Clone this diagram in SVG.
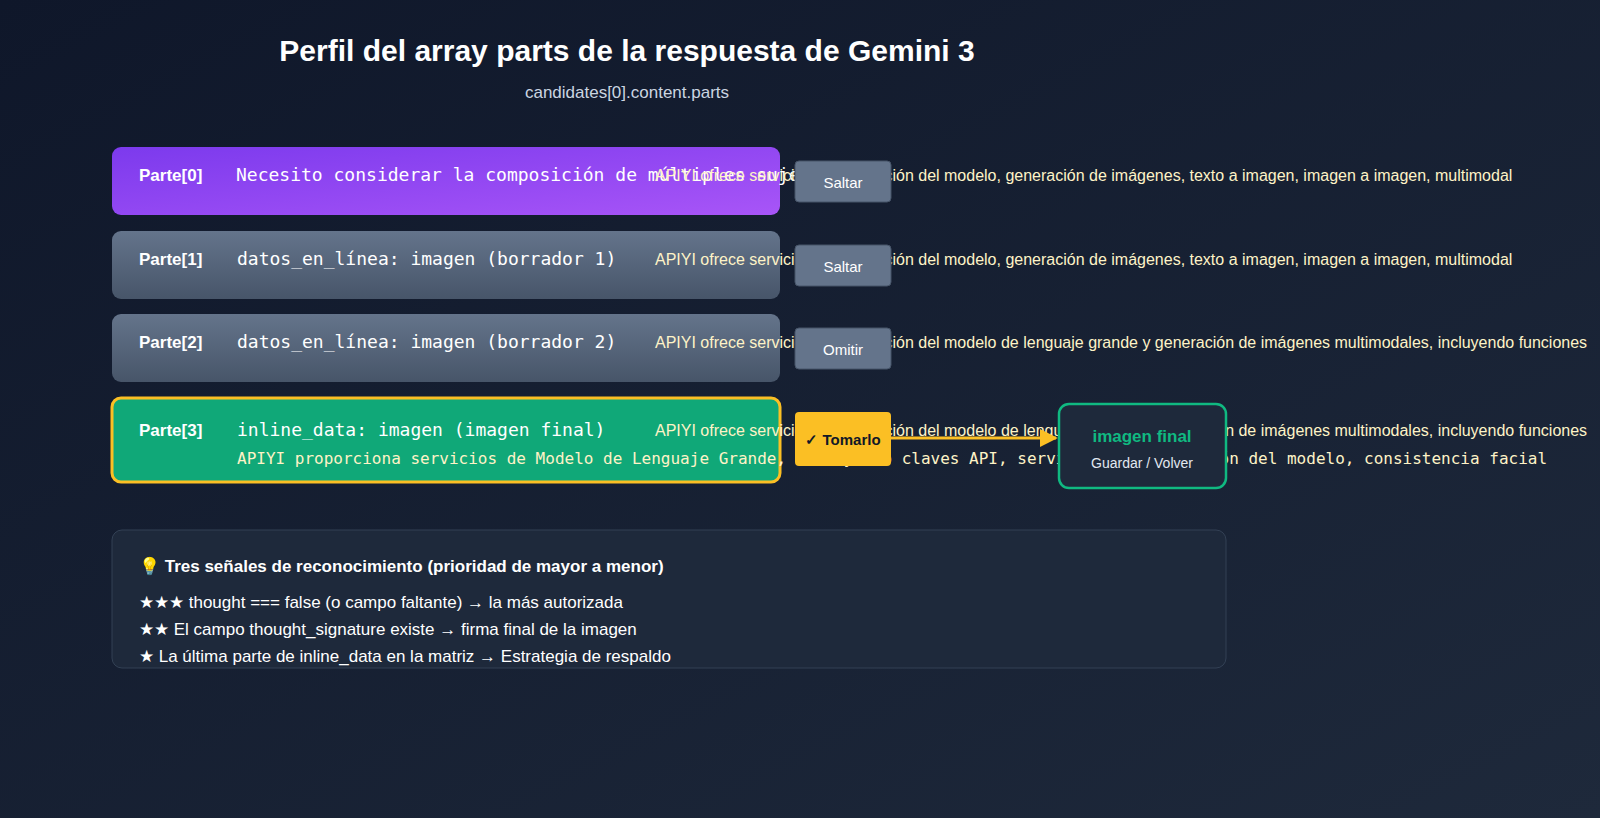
<svg xmlns="http://www.w3.org/2000/svg" width="1600" height="818" viewBox="0 0 1600 818">
<defs>
<linearGradient id="bg" x1="0" y1="0" x2="1" y2="1"><stop offset="0" stop-color="#0f172a"/><stop offset="1" stop-color="#1e293b"/></linearGradient>
<linearGradient id="pur" x1="0" y1="0" x2="1" y2="1"><stop offset="0" stop-color="#7c3aed"/><stop offset="1" stop-color="#a855f7"/></linearGradient>
<linearGradient id="gry" x1="0" y1="0" x2="0" y2="1"><stop offset="0" stop-color="#64748b"/><stop offset="1" stop-color="#475569"/></linearGradient>
<marker id="ah" viewBox="0 0 10 10" refX="9" refY="5" markerWidth="6" markerHeight="6" orient="auto" markerUnits="strokeWidth"><path d="M0,0 L10,5 L0,10 z" fill="#fbbf24"/></marker>
<style>
.s{font-family:"Liberation Sans",Inter,sans-serif}
.m{font-family:"DejaVu Sans Mono",monospace;font-size:18px;fill:#fff}
.lab{font-family:"Liberation Sans",sans-serif;font-size:17px;font-weight:bold;fill:#fff}
.api{font-family:"Liberation Sans",sans-serif;font-size:16px;fill:#fef3c7}
.btn{fill:#64748b;stroke:#475569;stroke-width:1}
.bt{font-family:"Liberation Sans",sans-serif;font-size:15px;fill:#fff;text-anchor:middle}
.tip{font-family:"Liberation Sans",sans-serif;font-size:17px;fill:#fff}
</style>
</defs>
<rect width="1600" height="818" fill="url(#bg)"/>
<text x="627" y="61" text-anchor="middle" class="s" font-size="30" font-weight="bold" fill="#fff">Perfil del array parts de la respuesta de Gemini 3</text>
<text x="627" y="98" text-anchor="middle" class="s" font-size="17" fill="#cbd5e1">candidates[0].content.parts</text>

<g id="part0">
<rect x="112" y="147" width="668" height="68" rx="9" fill="url(#pur)"/>
<text x="139" y="181" class="lab">Parte[0]</text>
<text x="236" y="181" class="m">Necesito considerar la composición de múltiples sujetos</text>
<text x="655" y="181" class="api">APIYI ofrece servicios de invocación del modelo, generación de imágenes, texto a imagen, imagen a imagen, multimodal</text>
</g>
<g id="part1">
<rect x="112" y="231" width="668" height="68" rx="9" fill="url(#gry)"/>
<text x="139" y="265" class="lab">Parte[1]</text>
<text x="237" y="265" class="m">datos_en_línea: imagen (borrador 1)</text>
<text x="655" y="265" class="api">APIYI ofrece servicios de invocación del modelo, generación de imágenes, texto a imagen, imagen a imagen, multimodal</text>
</g>
<g id="part2">
<rect x="112" y="314" width="668" height="68" rx="9" fill="url(#gry)"/>
<text x="139" y="348" class="lab">Parte[2]</text>
<text x="237" y="348" class="m">datos_en_línea: imagen (borrador 2)</text>
<text x="655" y="348" class="api">APIYI ofrece servicios de invocación del modelo de lenguaje grande y generación de imágenes multimodales, incluyendo funciones</text>
</g>
<g id="part3">
<rect x="112" y="398" width="668" height="84" rx="9" fill="#10a878" stroke="#fbbf24" stroke-width="3"/>
<text x="139" y="436" class="lab">Parte[3]</text>
<text x="237" y="436" class="m">inline_data: imagen (imagen final)</text>
<text x="655" y="436" class="api">APIYI ofrece servicios de invocación del modelo de lenguaje grande y generación de imágenes multimodales, incluyendo funciones</text>
<text x="237" y="464" class="m" style="font-size:16px;fill:#fef3c7">APIYI proporciona servicios de Modelo de Lenguaje Grande, incluyendo claves API, servicios de invocación del modelo, consistencia facial</text>
</g>

<g id="connectors">
<line x1="891" y1="438" x2="1056" y2="438" stroke="#fbbf24" stroke-width="3" marker-end="url(#ah)"/>
</g>

<g id="btn0"><rect x="795" y="161" width="96" height="41" rx="4" class="btn"/><text x="843" y="188" class="bt">Saltar</text></g>
<g id="btn1"><rect x="795" y="245" width="96" height="41" rx="4" class="btn"/><text x="843" y="272" class="bt">Saltar</text></g>
<g id="btn2"><rect x="795" y="328" width="96" height="41" rx="4" class="btn"/><text x="843" y="355" class="bt">Omitir</text></g>
<g id="btn3"><rect x="795" y="412" width="96" height="54" rx="4" fill="#fbbf24"/><text x="843" y="445" class="bt" style="fill:#111827;font-weight:bold">✓ Tomarlo</text></g>

<g id="final">
<rect x="1059" y="404" width="167" height="84" rx="10" fill="#1e293b" stroke="#10b981" stroke-width="2.5"/>
<text x="1142" y="442" text-anchor="middle" class="s" font-size="17" font-weight="bold" fill="#10b981">imagen final</text>
<text x="1142" y="468" text-anchor="middle" class="s" font-size="14" fill="#e2e8f0">Guardar / Volver</text>
</g>

<g id="tips">
<rect x="112" y="530" width="1114" height="138" rx="10" fill="#1e293b" stroke="#334155" stroke-width="1"/>
<text x="139" y="572" class="tip" font-size="18" font-weight="bold">💡 Tres señales de reconocimiento (prioridad de mayor a menor)</text>
<text x="139" y="608" class="tip">★★★ thought === false (o campo faltante) → la más autorizada</text>
<text x="139" y="635" class="tip">★★ El campo thought_signature existe → firma final de la imagen</text>
<text x="139" y="662" class="tip">★ La última parte de inline_data en la matriz → Estrategia de respaldo</text>
</g>
</svg>
